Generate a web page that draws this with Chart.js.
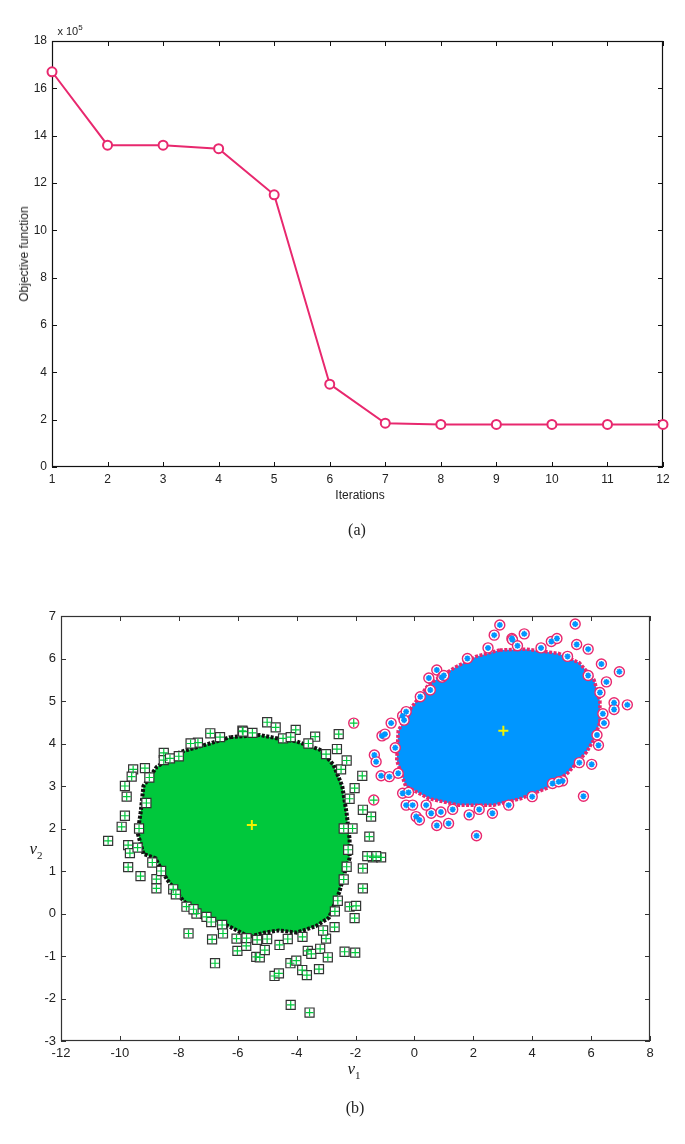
<!DOCTYPE html>
<html lang="en">
<head>
<meta charset="UTF-8">
<title>Objective function and clusters</title>
<script src="https://cdn.jsdelivr.net/npm/chart.js"></script>
<style>
  body { margin: 0; background: #fff; }
  #page { position: relative; width: 685px; height: 1144px; overflow: hidden;
          font-family: "Liberation Sans", Arial, sans-serif; color: #222; }
  canvas { position: absolute; left: 0; }
  .lbl { position: absolute; white-space: nowrap; transform: translate(-50%, -50%); }
  .serif { font-family: "Liberation Serif", "Times New Roman", serif; }
</style>
</head>
<body>
<div id="page">
  <canvas id="chartA" width="685" height="510" style="top:0"></canvas>
  <canvas id="chartB" width="685" height="520" style="top:560px"></canvas>

  <div class="lbl" style="left:70px;top:30px;font-size:11px">x 10<sup style="font-size:8px">5</sup></div>
  <div class="lbl" style="left:24px;top:254px;font-size:12px;transform:translate(-50%,-50%) rotate(-90deg)">Objective function</div>
  <div class="lbl" style="left:360px;top:495px;font-size:12px">Iterations</div>
  <div class="lbl serif" style="left:357px;top:530px;font-size:16px">(a)</div>

  <div class="lbl serif" style="left:36px;top:850px;font-size:17px"><i>ν</i><sub style="font-size:11px">2</sub></div>
  <div class="lbl serif" style="left:354px;top:1070px;font-size:17px"><i>ν</i><sub style="font-size:11px">1</sub></div>
  <div class="lbl serif" style="left:355px;top:1108px;font-size:16px">(b)</div>
</div>

<script>
// ---- (a) objective function per iteration (values in units of 10^5)
const iterations = [1, 2, 3, 4, 5, 6, 7, 8, 9, 10, 11, 12];
const objective = [16.7, 13.6, 13.6, 13.45, 11.5, 3.5, 1.85, 1.8, 1.8, 1.8, 1.8, 1.8];
const objTicks = [0, 2, 4, 6, 8, 10, 12, 14, 16, 18];

// ---- (b) clustered data in (v1, v2)
const v1Ticks = [-12, -10, -8, -6, -4, -2, 0, 2, 4, 6, 8];
const v2Ticks = [-3, -2, -1, 0, 1, 2, 3, 4, 5, 6, 7];

// outline of the dense part of cluster 1 (green)
const greenCore = [
  [-6.25, 4.15], [-5.25, 4.2], [-4.5, 4.1], [-4.0, 4.05], [-3.2, 3.85], [-2.75, 3.5],
  [-2.45, 3.0], [-2.3, 2.35], [-2.2, 1.75], [-2.2, 1.3], [-2.35, 1.0], [-2.55, 0.5],
  [-2.9, -0.1], [-3.35, -0.3], [-4.0, -0.45], [-4.6, -0.4], [-5.1, -0.45], [-5.6, -0.55],
  [-6.3, -0.3], [-7.2, -0.1], [-7.85, 0.3], [-8.4, 0.8], [-8.8, 1.3], [-9.2, 1.4],
  [-9.4, 1.9], [-9.3, 2.35], [-9.2, 3.0], [-8.75, 3.45], [-7.95, 3.8], [-6.95, 4.0],
  [-6.25, 4.15]
];
// scattered points of cluster 1
const greenPts = [
  [-6.93, 4.24], [-5.84, 4.30], [-8.51, 3.78], [-8.51, 3.61], [-9.55, 3.39], [-9.15, 3.42],
  [-9.6, 3.22], [-9.83, 3.0], [-9.77, 2.75], [-9.83, 2.30], [-9.94, 2.04], [-10.4, 1.71],
  [-9.72, 1.61], [-9.66, 1.42], [-7.35, 4.02], [-7.6, 4.0], [-9.72, 1.09], [-9.30, 0.88],
  [-8.76, 0.81], [-8.76, 0.59], [-8.19, 0.57], [-7.74, 0.16], [-7.4, 0.0], [-7.06, -0.08],
  [-7.67, -0.47], [-6.87, -0.61], [-6.53, -0.27], [-6.5, -0.47], [-6.01, -0.88], [-5.71, -0.76],
  [-5.37, -1.02], [-6.77, -1.17], [-5.25, -1.03], [-5.08, -0.86], [-4.58, -0.74], [-4.75, -1.47],
  [-4.6, -1.41], [-4.21, -1.17], [-4.01, -1.11], [-3.81, -1.33], [-3.65, -1.45], [-3.62, -0.88],
  [-3.5, -0.95], [-3.24, -1.31], [-3.2, -0.83], [-2.94, -1.03], [-2.37, -0.9], [-2.01, -0.92],
  [-4.2, -2.15], [-3.56, -2.33], [-2.2, 0.16], [-1.98, 0.18], [-2.03, -0.11], [-1.75, 0.59],
  [-1.75, 1.06], [-1.41, 1.32], [-1.13, 1.32], [-3.0, -0.59], [-2.71, -0.32], [-6.04, -0.59],
  [-5.7, -0.58], [-5.34, -0.62], [-5.0, 4.5], [-5.82, 4.28], [-4.71, 4.38], [-4.03, 4.32],
  [-3.37, 4.16], [-2.57, 4.22], [-2.63, 3.87], [-2.49, 3.39], [-1.77, 3.24], [-2.03, 2.95],
  [-1.47, 2.28], [-1.53, 1.81], [-1.75, 2.44], [-1.3, 1.35], [-1.6, 1.35], [-4.46, 4.12],
  [-3.6, 4.0], [-2.3, 3.6], [-2.2, 2.7], [-2.1, 2.0], [-2.25, 1.5], [-2.4, 0.8], [-2.6, 0.3],
  [-3.1, -0.4], [-3.8, -0.55], [-4.3, -0.6], [-5.0, -0.6], [-8.9, 1.2], [-9.1, 2.6],
  [-9.0, 3.2], [-8.3, 3.65], [-8.0, 3.7], [-6.6, 4.15], [-5.5, 4.25], [-4.2, 4.15], [-3.0, 3.75],
  [-9.35, 2.0], [-9.4, 1.55], [-8.6, 1.0], [-8.1, 0.45], [-7.5, 0.1], [-6.9, -0.2],
  [-2.4, 2.0], [-2.3, 1.1], [-2.7, 0.05]
];

// outline of the dense part of cluster 2 (blue)
const blueCore = [
  [2.9, 6.2], [3.8, 6.22], [4.9, 6.12], [5.6, 5.9], [6.1, 5.5], [6.3, 5.0], [6.3, 4.5],
  [6.1, 4.1], [5.85, 3.8], [5.2, 3.3], [4.5, 2.95], [3.6, 2.7], [2.7, 2.55], [1.5, 2.55],
  [0.5, 2.7], [-0.3, 3.0], [-0.6, 3.6], [-0.55, 4.3], [-0.1, 4.85], [0.5, 5.4], [1.4, 5.8],
  [2.1, 6.05], [2.9, 6.2]
];
// scattered points of cluster 2
const bluePts = [
  [2.9, 6.79], [2.71, 6.55], [3.31, 6.47], [3.73, 6.58], [4.65, 6.4], [4.84, 6.47],
  [5.46, 6.81], [5.51, 6.33], [5.9, 6.22], [6.35, 5.87], [6.96, 5.69], [6.52, 5.45],
  [6.78, 4.96], [7.23, 4.91], [6.78, 4.8], [6.44, 4.48], [6.25, 3.96], [6.02, 3.51],
  [5.74, 2.76], [5.03, 3.12], [4.69, 3.06], [0.49, 5.54], [0.76, 5.73], [0.94, 5.56],
  [0.54, 5.26], [-0.4, 4.65], [-0.28, 4.75], [-0.79, 4.48], [-1.1, 4.18], [-1.0, 4.22],
  [-1.36, 3.73], [-1.3, 3.57], [-1.13, 3.24], [-0.85, 3.22], [-0.4, 2.83], [-0.28, 2.55],
  [0.06, 2.28], [0.17, 2.2], [0.57, 2.36], [0.76, 2.07], [1.16, 2.12], [1.86, 2.32],
  [2.11, 1.83], [2.65, 2.36], [-0.06, 2.55], [0.9, 2.39], [3.33, 6.44],
  [1.8, 6.0], [2.5, 6.25], [3.5, 6.3], [4.3, 6.25], [5.2, 6.05], [5.9, 5.6], [6.3, 5.2],
  [6.4, 4.7], [6.2, 4.2], [5.6, 3.55], [4.9, 3.1], [4.0, 2.75], [3.2, 2.55], [2.2, 2.45],
  [1.3, 2.45], [0.4, 2.55], [-0.2, 2.85], [-0.55, 3.3], [-0.65, 3.9], [-0.35, 4.55],
  [0.2, 5.1], [1.0, 5.6]
];
// cluster-1 points that got cluster-2 circles
const strayPts = [[-2.06, 4.48], [-1.38, 2.67]];
const centroids = [[-5.52, 2.08], [3.02, 4.3]];

const PINK = '#e8286e';
const GREEN = '#00c83c';
const BLUE = '#0096ff';

// MATLAB-like box with inward ticks on all four sides
const boxTicks = {
  id: 'boxTicks',
  beforeDatasetsDraw(chart, args, opts) {
    const { ctx, chartArea: a, scales: { x, y } } = chart;
    const len = opts.len || 5;
    ctx.save();
    ctx.strokeStyle = opts.color || '#000';
    ctx.lineWidth = 1;
    ctx.beginPath();
    x.ticks.forEach(t => {
      const px = Math.round(x.getPixelForValue(t.value)) + 0.5;
      ctx.moveTo(px, a.bottom); ctx.lineTo(px, a.bottom - len);
      ctx.moveTo(px, a.top); ctx.lineTo(px, a.top + len);
    });
    y.ticks.forEach(t => {
      const py = Math.round(y.getPixelForValue(t.value)) + 0.5;
      ctx.moveTo(a.left, py); ctx.lineTo(a.left + len, py);
      ctx.moveTo(a.right, py); ctx.lineTo(a.right - len, py);
    });
    ctx.stroke();
    ctx.lineWidth = 1.2;
    ctx.strokeRect(Math.round(a.left) + 0.5, Math.round(a.top) + 0.5,
                   Math.round(a.width) - 1, Math.round(a.height) - 1);
    ctx.restore();
  }
};

function axis(ticksArr, min, max, size, horizontal, fontSize) {
  return {
    type: 'linear', min: min, max: max,
    grid: { display: false, drawTicks: false },
    border: { display: false },
    afterBuildTicks: s => { s.ticks = ticksArr.map(v => ({ value: v })); },
    afterFit: s => {
      if (horizontal) { s.height = size; s.paddingLeft = 0; s.paddingRight = 0; }
      else { s.width = size; s.paddingTop = 0; s.paddingBottom = 0; }
    },
    ticks: {
      padding: 5, autoSkip: false, maxRotation: 0, color: '#222',
      font: { family: '"Liberation Sans", Arial, sans-serif', size: fontSize },
      callback: v => String(v)
    }
  };
}

// ---------- chart (a)
new Chart(document.getElementById('chartA'), {
  type: 'line',
  data: {
    datasets: [{
      data: objective.map((v, i) => ({ x: iterations[i], y: v })),
      borderColor: PINK, borderWidth: 2, tension: 0, clip: false,
      pointStyle: 'circle', pointRadius: 4.5, pointBorderWidth: 2,
      pointBackgroundColor: '#fff', pointBorderColor: PINK
    }]
  },
  options: {
    responsive: false, animation: false, events: [],
    layout: { padding: { top: 41, right: 22, left: 0, bottom: 0 } },
    plugins: { legend: { display: false }, tooltip: { enabled: false }, boxTicks: { color: '#111', len: 5 } },
    scales: {
      x: axis(iterations, 1, 12, 43, true, 12),
      y: axis(objTicks, 0, 18, 52, false, 12)
    }
  },
  plugins: [boxTicks]
});

// ---------- chart (b)
const pts = arr => arr.map(p => ({ x: p[0], y: p[1] }));

new Chart(document.getElementById('chartB'), {
  type: 'scatter',
  data: {
    datasets: [
      { type: 'line', data: pts(greenCore), order: 10, fill: 'shape', backgroundColor: GREEN,
        borderColor: '#111', borderWidth: 4, borderDash: [3, 1.5], pointRadius: 0, tension: 0 },
      { data: pts(greenPts), order: 9, pointStyle: 'rect', pointRadius: 6.4,
        pointBorderColor: '#333', pointBackgroundColor: '#fff', pointBorderWidth: 1.2 },
      { data: pts(greenPts), order: 8, pointStyle: 'cross', pointRadius: 4,
        pointBorderColor: GREEN, pointBorderWidth: 1.2 },
      { type: 'line', data: pts(blueCore), order: 7, fill: 'shape', backgroundColor: BLUE,
        borderColor: PINK, borderWidth: 3.5, borderDash: [3, 1.5], pointRadius: 0, tension: 0 },
      { data: pts(bluePts), order: 6, pointStyle: 'circle', pointRadius: 5,
        pointBorderColor: PINK, pointBackgroundColor: '#fff', pointBorderWidth: 1.4 },
      { data: pts(bluePts), order: 5, pointStyle: 'star', pointRadius: 3,
        pointBorderColor: BLUE, pointBorderWidth: 1.6 },
      { data: pts(strayPts), order: 4, pointStyle: 'circle', pointRadius: 5,
        pointBorderColor: PINK, pointBackgroundColor: '#fff', pointBorderWidth: 1.4 },
      { data: pts(strayPts), order: 3, pointStyle: 'cross', pointRadius: 4,
        pointBorderColor: GREEN, pointBorderWidth: 1.2 },
      { data: pts(centroids), order: 1, pointStyle: 'cross', pointRadius: 5,
        pointBorderColor: '#f2f200', pointBorderWidth: 2 }
    ]
  },
  options: {
    responsive: false, animation: false, events: [],
    layout: { padding: { top: 56, right: 35, left: 0, bottom: 0 } },
    plugins: { legend: { display: false }, tooltip: { enabled: false }, boxTicks: { color: '#333', len: 5 } },
    scales: {
      x: axis(v1Ticks, -12, 8, 39, true, 13),
      y: axis(v2Ticks, -3, 7, 61, false, 13)
    }
  },
  plugins: [boxTicks]
});
</script>
</body>
</html>
